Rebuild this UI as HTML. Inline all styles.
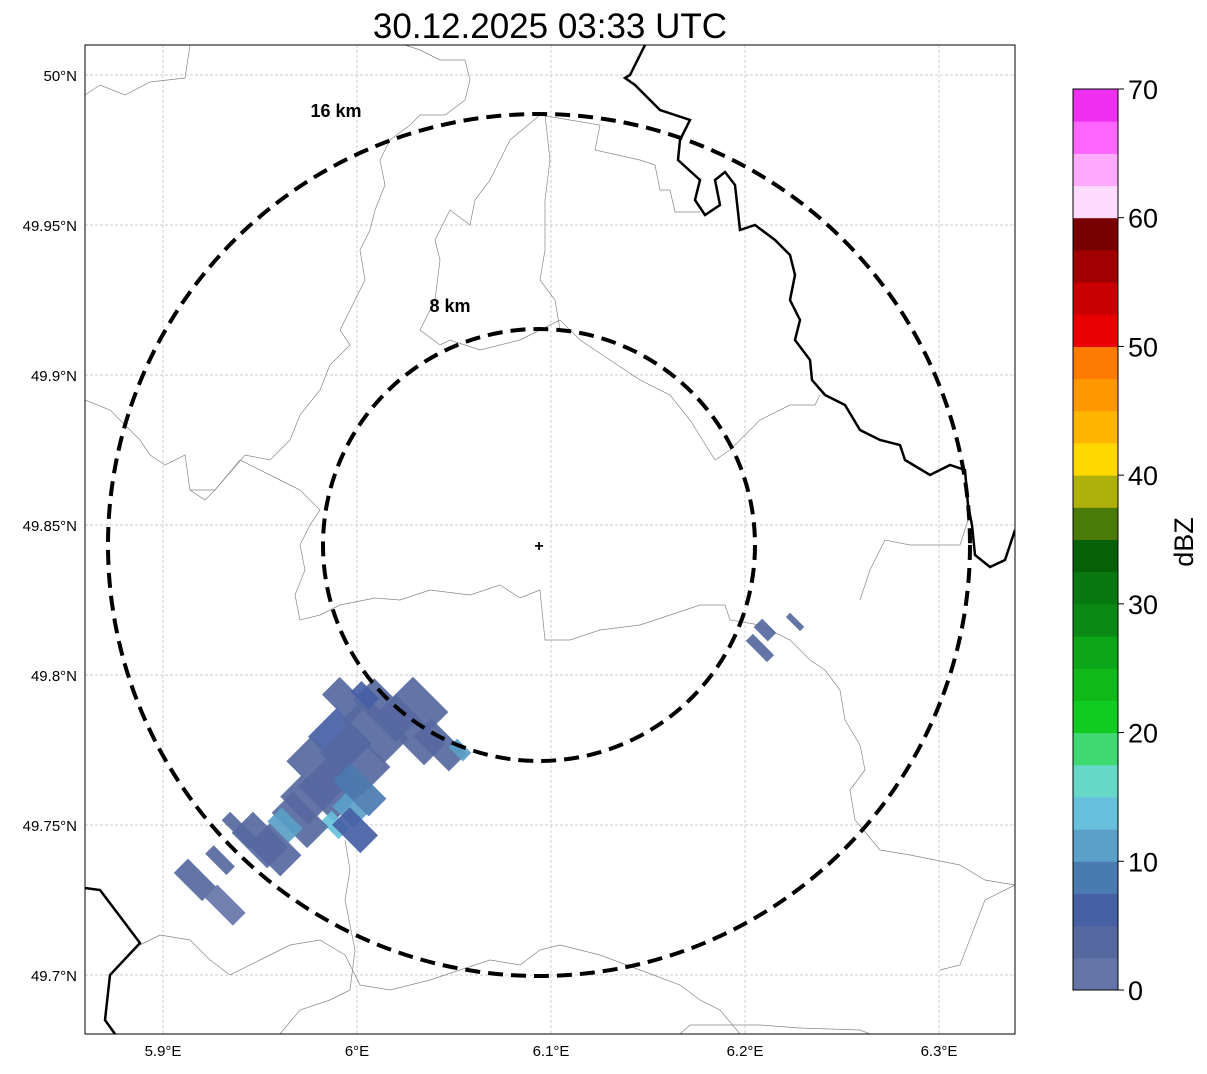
<!DOCTYPE html>
<html><head><meta charset="utf-8"><style>
body{margin:0;background:#fff;font-family:"Liberation Sans",sans-serif}
svg text{font-family:"Liberation Sans","DejaVu Sans",sans-serif}
</style></head><body>
<svg id="c" width="1207" height="1069" viewBox="0 0 1207 1069">
<text x="550" y="38" font-size="35" text-anchor="middle">30.12.2025 03:33 UTC</text>
<defs><clipPath id="mc"><rect x="85" y="45" width="930" height="989"/></clipPath></defs>
<g id="map" clip-path="url(#mc)">
<g id="grid"></g>
<g fill="none" stroke="#888" stroke-width="0.7">
<path d="M85,95 L100,85 L125,95 L150,82 L185,78 L190,45"/>
<path d="M405,45 L420,50 L440,60 L465,60 L470,80 L465,100 L445,115 L420,115 L410,125 L390,140 L380,160 L385,185 L375,210 L370,230 L360,250 L365,280 L355,300 L340,330 L350,345 L330,365 L320,390 L300,415 L290,440 L270,460 L245,455 L215,490 L205,500 L190,490 L185,455 L165,465 L150,455 L140,440 L110,410 L85,400"/>
<path d="M190,490 L215,490 L240,460 L280,480 L300,490 L320,510 L310,525 L300,545 L305,570 L295,595 L300,620 L320,615 L340,605 L375,598 L400,600 L430,590 L470,595 L500,585 L520,598 L540,590 L545,640 L570,640 L600,630 L640,625 L700,605 L725,605 L730,620 L760,625 L790,640 L810,660 L825,670 L840,690 L845,720 L860,745 L865,770 L850,790 L855,820 L880,850 L910,855 L960,865 L985,880 L1015,885"/>
<path d="M540,115 L510,140 L490,180 L475,200 L470,225 L450,210 L435,240 L440,260 L435,300 L420,330 L440,345 L450,340 L480,350 L520,340 L540,330 L560,320 L580,340 L610,360 L640,380 L670,395 L690,420 L715,460 L730,450 L760,420 L790,405 L815,405 L820,395"/>
<path d="M545,115 L550,160 L545,200 L545,250 L540,280 L555,300 L560,330"/>
<path d="M540,115 L600,125 L595,150 L640,160 L655,165 L660,190 L670,190 L675,212 L700,212"/>
<path d="M860,600 L870,570 L885,540 L910,545 L960,545 L968,520"/>
<path d="M280,1034 L300,1010 L330,1000 L350,990 L355,950 L345,900 L350,870 L345,840"/>
<path d="M140,945 L160,935 L190,940 L210,960 L230,975 L260,960 L290,945 L320,940 L345,955 L360,985 L390,990 L430,980 L460,970 L490,960 L520,965 L540,950 L560,945 L600,955 L640,970 L680,985 L700,1000 L720,1010 L740,1034"/>
<path d="M680,1034 L690,1025 L760,1025 L800,1028 L860,1030 L870,1034"/>
<path d="M940,970 L960,965 L985,900 L1015,885"/>
</g>
<g fill="none" stroke="#000" stroke-width="2.5">
<path d="M645,45 L630,75 L625,78 L635,85 L645,95 L660,110 L690,120 L680,140 L678,160 L700,180 L695,200 L705,215 L720,205 L715,180 L725,172 L735,185 L740,230 L755,225 L775,240 L790,255 L795,275 L790,300 L800,320 L795,340 L810,360 L812,380 L825,395 L845,405 L860,430 L880,440 L900,445 L905,460 L930,475 L950,465 L965,470 L968,505 L972,525 L975,555 L990,567 L1005,560 L1015,530"/>
<path d="M85,888 L100,890 L140,943 L110,975 L105,1020 L115,1034"/>
</g>
<g id="echoes"></g>
<g fill="none" stroke="#000" stroke-width="4" stroke-dasharray="15,8">
<circle cx="539" cy="545" r="431"/>
<circle cx="539" cy="545" r="216"/>
</g>
<text x="336" y="117" font-size="18" font-weight="bold" text-anchor="middle">16 km</text>
<text x="450" y="312" font-size="18" font-weight="bold" text-anchor="middle">8 km</text>
<text x="539" y="551" font-size="16" font-weight="bold" text-anchor="middle">+</text>
</g>
<rect x="85" y="45" width="930" height="989" fill="none" stroke="#000" stroke-width="1"/>
<g id="ticks"></g>
<g id="cbar"></g>
<text transform="translate(1193,542) rotate(-90)" font-size="27" text-anchor="middle">dBZ</text>
</svg>
<script>
const lonTicks=[5.9,6.0,6.1,6.2,6.3];
const lonLabels=["5.9°E","6°E","6.1°E","6.2°E","6.3°E"];
const latTicks=[50,49.95,49.9,49.85,49.8,49.75,49.7];
const latLabels=["50°N","49.95°N","49.9°N","49.85°N","49.8°N","49.75°N","49.7°N"];
const echoLon=[5.9938,6.0144,6.0273,6.0428,6.0531,5.9912,5.999,5.9861,5.9964,5.9887,5.9706,5.9629,5.95,5.9397,5.999,5.9294,5.9165,5.932,6.2103,6.2077,6.2258,6.0092,6.0325,5.9809,6.0015,5.9732,5.9577,6.0041];
const echoLat=[49.7917,49.7883,49.7817,49.7767,49.775,49.7783,49.7717,49.7617,49.755,49.75,49.7517,49.75,49.745,49.7483,49.7483,49.7383,49.7317,49.7233,49.815,49.809,49.8177,49.7817,49.79,49.7683,49.7617,49.7583,49.7417,49.7933];
const echoDbz=[3,4,3,4,12,5,3,4,12,14,3,12,3,4,5,3,3,2,3,3,3,4,3,3,8,3,3,5];
const echoLen=[40,60,70,50,20,50,60,50,30,25,50,30,50,40,40,30,40,40,20,30,20,60,50,60,50,40,45,25];
const echoWid=[25,30,30,25,12,40,40,40,20,15,30,20,30,12,25,12,20,18,12,10,6,35,30,35,25,30,30,15];
const cbLevels=[0,2.5,5,7.5,10,12.5,15,17.5,20,22.5,25,27.5,30,32.5,35,37.5,40,42.5,45,47.5,50,52.5,55,57.5,60,62.5,65,67.5,70];
const cbColors=["#6675a8","#5668a0","#4560a5","#4a7bb0","#5aa0c8","#66c0dc","#66d8c8","#40d870","#10cc20","#10b818","#0ca618","#0a8a14","#087810","#066008","#4a7a08","#b0b00a","#ffd800","#ffb400","#ff9800","#ff7a00","#e80000","#c80000","#a00000","#780000","#ffdcff","#ffaaff","#ff66ff","#f030f0"];
const cbTicks=[0,10,20,30,40,50,60,70];
const NS="http://www.w3.org/2000/svg";
const xs=lon=>163+(lon-5.9)*1940;
const ys=lat=>75+(50-lat)*3000;
const cy=v=>990-(v/70)*901;
function mk(tag,parent,attrs){const e=document.createElementNS(NS,tag);for(const k in attrs)e.setAttribute(k,attrs[k]);parent.appendChild(e);return e;}
function colorFor(v){let i=0;while(i<cbColors.length-1&&v>=cbLevels[i+1])i++;return cbColors[i];}
const grid=document.getElementById('grid'),ticks=document.getElementById('ticks');
lonTicks.forEach((v,i)=>{const x=xs(v);
 const l=mk('line',grid,{x1:x,x2:x,y1:45,y2:1034,stroke:'#bbb','stroke-width':0.7,'stroke-dasharray':'3,2'});
 
 
 const t=mk('text',ticks,{x:x,y:1056,'font-size':15,'text-anchor':'middle'});t.textContent=lonLabels[i];
 
 });
latTicks.forEach((v,i)=>{const y=ys(v);
 const l=mk('line',grid,{x1:85,x2:1015,y1:y,y2:y,stroke:'#bbb','stroke-width':0.7,'stroke-dasharray':'3,2'});
 
 
 const t=mk('text',ticks,{x:77,y:y+6,'font-size':15,'text-anchor':'end'});t.textContent=latLabels[i];
 
 });
const eg=document.getElementById('echoes');
echoLon.forEach((lon,i)=>{const x=xs(lon),y=ys(echoLat[i]),L=echoLen[i],W=echoWid[i];
 const r=mk('rect',eg,{x:x-L/2,y:y-W/2,width:L,height:W,fill:colorFor(echoDbz[i]),opacity:0.92,transform:`rotate(45 ${x} ${y})`});
 
 });
const cb=document.getElementById('cbar');
cbColors.forEach((c,i)=>{const y1=cy(cbLevels[i+1]),y0=cy(cbLevels[i]);
 const r=mk('rect',cb,{x:1073,y:y1,width:45,height:y0-y1+0.5,fill:c});
 
 });
mk('rect',cb,{x:1073,y:89,width:45,height:901,fill:'none',stroke:'#000','stroke-width':1});
cbTicks.forEach(v=>{const y=cy(v);
 mk('line',cb,{x1:1118,x2:1124,y1:y,y2:y,stroke:'#000'});
 const t=mk('text',cb,{x:1128,y:y+10,'font-size':27});t.textContent=v;
 
 });
</script>
</body></html>
